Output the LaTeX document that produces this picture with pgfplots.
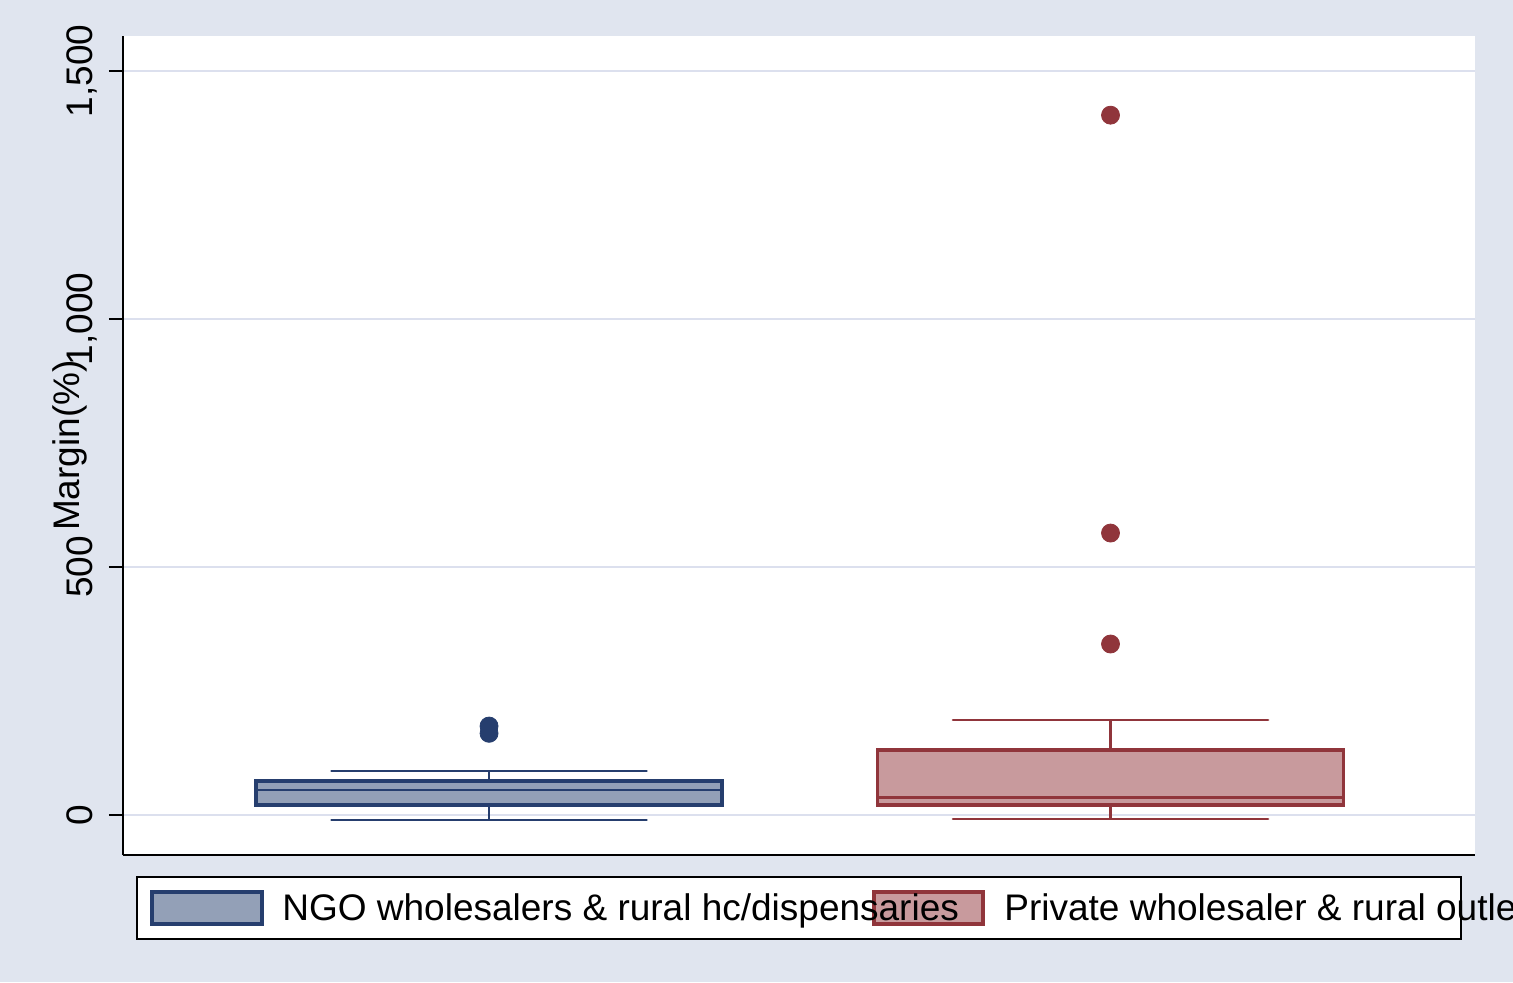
\documentclass[border=0pt]{standalone}
\usepackage{pgfplots}
\pgfplotsset{compat=1.18}
\usepackage{fontspec}
\setmainfont{Liberation Sans}
\definecolor{bg}{RGB}{224,229,239}
\definecolor{gridc}{RGB}{220,224,238}
\definecolor{navyc}{RGB}{38,62,110}
\definecolor{navyf}{RGB}{147,160,183}
\definecolor{maroonc}{RGB}{144,53,59}
\definecolor{maroonf}{RGB}{200,154,157}
\newcommand{\bigfont}{\fontsize{18.5}{22}\selectfont}
\begin{document}
\begin{tikzpicture}
\useasboundingbox (0pt,0pt) rectangle (756.5pt,491pt);
\fill[bg] (0pt,0pt) rectangle (756.5pt,491pt);
\begin{axis}[
  at={(61.5pt,63.5pt)}, anchor=south west,
  scale only axis, width=676pt, height=409.5pt,
  xmin=0.411, xmax=2.5865, ymin=-80.6, ymax=1570.6,
  axis background/.style={fill=white},
  axis x line*=bottom, axis y line*=left,
  axis line style={black, line width=1pt},
  xtick=\empty,
  ytick={0,500,1000,1500},
  tick align=outside, major tick length=7pt,
  tick style={black, line width=0.8pt},
  ymajorgrids, grid style={gridc, line width=1pt},
  /pgf/number format/.cd, 1000 sep={,}, assume math mode=true, /pgfplots/.cd,
  ticklabel style={font=\bigfont},
  yticklabel style={xshift=-8.25pt, rotate=90, anchor=base, inner sep=0pt},
  ylabel={Margin(\%)},
  ylabel style={font=\bigfont, at={(axis description cs:-0.0325,0.5)}, anchor=base, inner sep=0pt},
]
% NGO box: whiskers -10.1 / 88.7, quartiles 20.2 / 68.5, median 50.4
\addplot[navyc, line width=1.2pt] coordinates {(1,68.5) (1,88.7)};
\addplot[navyc, line width=1.2pt] coordinates {(1,20.2) (1,-10.1)};
\addplot[navyc, line width=1.3pt, line cap=round] coordinates {(0.7465,88.7) (1.2535,88.7)};
\addplot[navyc, line width=1.3pt, line cap=round] coordinates {(0.7465,-10.1) (1.2535,-10.1)};
\addplot[draw=navyc, fill=navyf, line width=1.7pt] coordinates {(0.625,20.2) (1.375,20.2) (1.375,68.5) (0.625,68.5)} -- cycle;
\addplot[navyc, line width=1.4pt] coordinates {(0.625,50.4) (1.375,50.4)};
\addplot[only marks, mark=*, mark size=4.5pt, mark options={draw=navyc, fill=navyc}] coordinates {(1,179.4) (1,164.7)};
% Private box: whiskers -8 / 191.5, quartiles 20.2 / 131, median 35.7
\addplot[maroonc, line width=1.2pt] coordinates {(2,131) (2,191.5)};
\addplot[maroonc, line width=1.2pt] coordinates {(2,20.2) (2,-8)};
\addplot[maroonc, line width=1.3pt, line cap=round] coordinates {(1.7465,191.5) (2.2535,191.5)};
\addplot[maroonc, line width=1.3pt, line cap=round] coordinates {(1.7465,-8) (2.2535,-8)};
\addplot[draw=maroonc, fill=maroonf, line width=1.7pt] coordinates {(1.625,20.2) (2.375,20.2) (2.375,131) (1.625,131)} -- cycle;
\addplot[maroonc, line width=1.4pt] coordinates {(1.625,35.7) (2.375,35.7)};
\addplot[only marks, mark=*, mark size=4.5pt, mark options={draw=maroonc, fill=maroonc}] coordinates {(2,1411) (2,568.5) (2,344.8)};
\end{axis}
% legend
\draw[black, fill=white, line width=0.75pt] (68.5pt,21.5pt) rectangle (730.5pt,52.5pt);
\draw[navyc, fill=navyf, line width=1.6pt] (76pt,29pt) rectangle (131pt,45pt);
\draw[maroonc, fill=maroonf, line width=1.6pt] (437pt,29pt) rectangle (491.5pt,45pt);
\node[anchor=base west, inner sep=0pt, font=\bigfont] at (141pt,31pt) {NGO wholesalers \& rural hc/dispensaries};
\begin{scope}
\clip (0pt,0pt) rectangle (756.5pt,491pt);
\node[anchor=base west, inner sep=0pt, font=\bigfont] at (502pt,31pt) {Private wholesaler \& rural outlets};
\end{scope}
\end{tikzpicture}
\end{document}
